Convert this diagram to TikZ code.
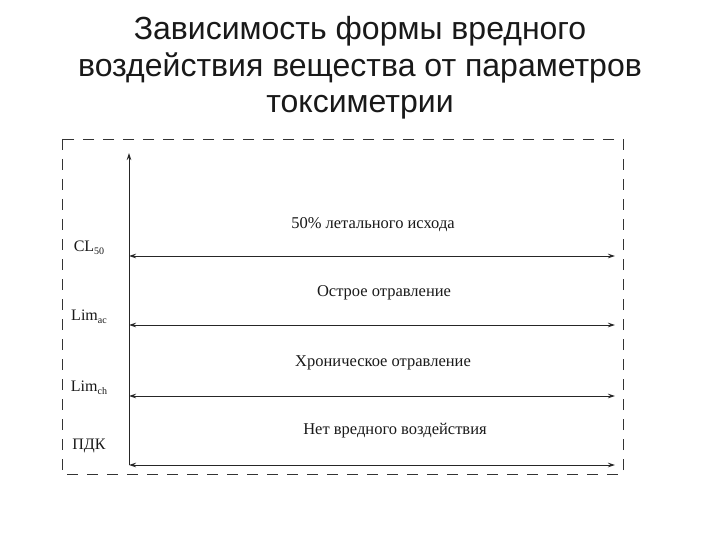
\documentclass[tikz,border=0pt]{standalone}
\usepackage{fontspec}
\setmainfont{Liberation Serif}
\newfontfamily\titlefont{Liberation Sans}
\usetikzlibrary{arrows.meta}
\newcommand\lowsub[1]{\raisebox{-0.35ex}{\fontsize{10}{10}\selectfont #1}}
\tikzset{
  ttl/.style={font=\titlefont\fontsize{32}{32}\selectfont, anchor=base, text=black!90},
  zone/.style={font=\fontsize{16.5}{16.5}\selectfont, text=black!90, inner sep=0pt},
  lvl/.style={font=\fontsize{16}{16}\selectfont, text=black!90, inner sep=0pt},
  frame/.style={draw=black!80, line width=0.8pt, dash pattern=on 11pt off 9pt},
  axisline/.style={draw=black!85, line width=0.9pt, -{Stealth[length=7pt,width=4.5pt]}},
  levelline/.style={draw=black!85, line width=0.9pt, {Stealth[length=7pt,width=4.5pt]}-{Stealth[length=7pt,width=4.5pt]}}
}
\begin{document}
\begin{tikzpicture}[x=1pt,y=-1pt]
\useasboundingbox[fill=white] (0,0) rectangle (720,540);
% title
\node[ttl] (t1) at (360,40) {Зависимость формы вредного};
\node[ttl] (t2) at (360,77) {воздействия вещества от параметров};
\node[ttl] (t3) at (360,113) {токсиметрии};
% frame
\coordinate (fa) at (62,139);
\coordinate (fb) at (623,474);
\draw[frame] (fa) rectangle (fb);
% axis
\coordinate (o) at (129,465);
\coordinate (top) at (129,153);
\draw[axisline] (o) -- (top);
% level lines
\coordinate (cl) at (129,256);  \coordinate (clR) at (615,256);
\coordinate (ac) at (129,325);  \coordinate (acR) at (615,325);
\coordinate (ch) at (129,396);  \coordinate (chR) at (615,396);
\coordinate (pd) at (129,465);  \coordinate (pdR) at (615,465);
\draw[levelline] (cl) -- (clR);
\draw[levelline] (ac) -- (acR);
\draw[levelline] (ch) -- (chR);
\draw[levelline] (pd) -- (pdR);
% level labels
\node[lvl] (lcl) at (89,248) {CL\lowsub{50}};
\node[lvl] (lac) at (89,317) {Lim\lowsub{ac}};
\node[lvl] (lch) at (89,388) {Lim\lowsub{ch}};
\node[lvl] (lpd) at (89,446) {ПДК};
% zone labels
\node[zone] (z1) at (373,225) {50\% летального исхода};
\node[zone] (z2) at (384,293) {Острое отравление};
\node[zone] (z3) at (383,363) {Хроническое отравление};
\node[zone] (z4) at (395,431) {Нет вредного воздействия};
\end{tikzpicture}
\end{document}
